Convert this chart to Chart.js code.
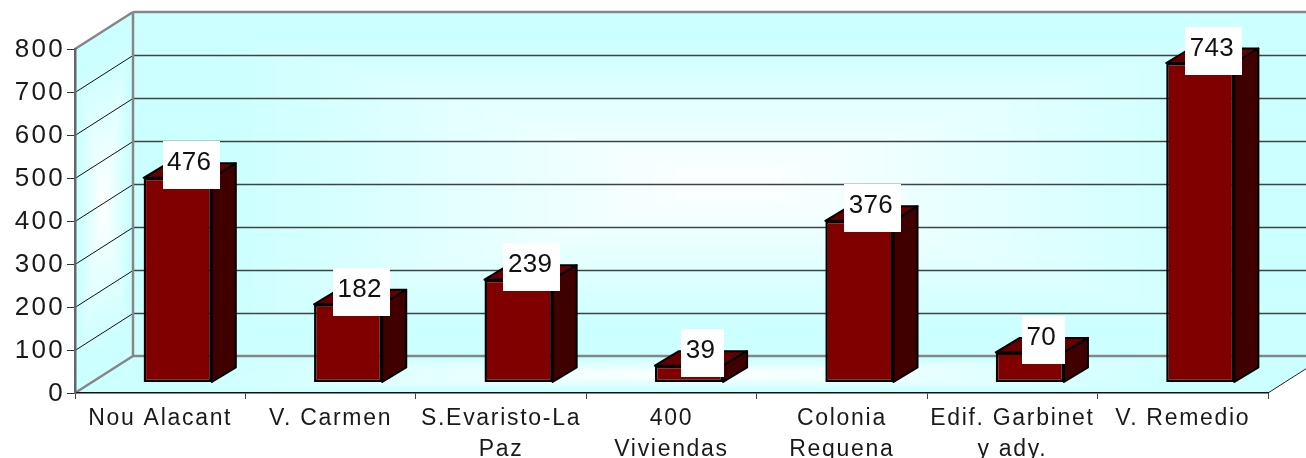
<!DOCTYPE html>
<html>
<head>
<meta charset="utf-8">
<style>
  html, body { margin: 0; padding: 0; background: #fff; overflow: hidden; }
  #grafica { display: block; }
</style>
<script src="https://cdn.jsdelivr.net/npm/chart.js@4"></script>
</head>
<body>
<canvas id="grafica" width="1306" height="458"></canvas>
<script>
const barrios = [
    "Nou Alacant",
    "V. Carmen",
    ["S.Evaristo-La", "Paz"],
    ["400", "Viviendas"],
    ["Colonia", "Requena"],
    ["Edif. Garbinet", "y ady."],
    "V. Remedio"
];
const valores = [476, 182, 239, 39, 376, 70, 743];
const ejeMax = 800;
const ejePaso = 100;

const CIAN = [204, 255, 255];
const FONDO_DX = 58, FONDO_DY = -37;   // profundidad de la caja
const BARRA_DX = 17.5, BARRA_DY = -10.5; // donde empieza la barra
const LADO_DX = 24, LADO_DY = -14.5;     // profundidad de la barra

// degradado "desde el centro": poligonos encajados de cian a blanco
function rellenoCentro(ctx, pts) {
    const cx = pts.reduce((s, p) => s + p[0], 0) / pts.length;
    const cy = pts.reduce((s, p) => s + p[1], 0) / pts.length;
    const pasos = 70;
    for (let i = pasos; i > 0; i--) {
        const t = i / pasos;
        const k = Math.min(1, t / 0.85);
        const c = CIAN.map(v => Math.round(255 + (v - 255) * k));
        ctx.fillStyle = `rgb(${c[0]},${c[1]},${c[2]})`;
        ctx.beginPath();
        pts.forEach(p => ctx.lineTo(cx + (p[0] - cx) * t, cy + (p[1] - cy) * t));
        ctx.closePath();
        ctx.fill();
    }
}

function linea(ctx, x1, y1, x2, y2, color, ancho) {
    ctx.strokeStyle = color;
    ctx.lineWidth = ancho;
    ctx.beginPath();
    ctx.moveTo(x1, y1);
    ctx.lineTo(x2, y2);
    ctx.stroke();
}

const caja3d = {
    id: "caja3d",
    beforeDraw(chart) {
        const { ctx, chartArea: a, scales } = chart;
        const y = scales.y;
        const l = a.left, r = a.right, t = a.top, b = a.bottom;
        const dx = FONDO_DX, dy = FONDO_DY;
        ctx.save();
        rellenoCentro(ctx, [[l + dx, t + dy], [r + dx, t + dy], [r + dx, b + dy], [l + dx, b + dy]]);
        rellenoCentro(ctx, [[l, t], [l + dx, t + dy], [l + dx, b + dy], [l, b]]);
        rellenoCentro(ctx, [[l, b], [l + dx, b + dy], [r + dx, b + dy], [r, b]]);

        // rejilla en el fondo y en la pared
        for (let v = ejePaso; v < ejeMax; v += ejePaso) {
            const py = Math.round(y.getPixelForValue(v)) + 0.5;
            linea(ctx, l + dx, py + dy, r + dx, py + dy, "#3c4444", 1.5);
            linea(ctx, l, py, l + dx, py + dy, "#111", 1);
        }
        linea(ctx, l, t, l + dx, t + dy, "#868686", 2.5);
        linea(ctx, l + dx, t + dy, r + dx, t + dy, "#868686", 2.5);
        linea(ctx, l + dx, t + dy, l + dx, b + dy, "#868686", 2.5);
        linea(ctx, l + dx, b + dy, r + dx, b + dy, "#868686", 2.5);
        linea(ctx, l, b, l + dx, b + dy, "#868686", 2.5);
        linea(ctx, r, b, r + dx, b + dy, "#222", 1);
        ctx.restore();
        ctx.letterSpacing = "2.3px"; // numeros del eje y
    },
    beforeDatasetDraw(chart) {
        const ctx = chart.ctx;
        ctx.save();
        ctx.translate(BARRA_DX, BARRA_DY);
        chart.getDatasetMeta(0).data.forEach(bar => {
            const p = bar.getProps(["x", "y", "base", "width"], true);
            const izq = p.x - p.width / 2, der = p.x + p.width / 2;
            ctx.strokeStyle = "#000";
            ctx.lineWidth = 2;
            ctx.lineJoin = "round";
            // cara superior
            ctx.fillStyle = "#660000";
            ctx.beginPath();
            ctx.moveTo(izq, p.y);
            ctx.lineTo(izq + LADO_DX, p.y + LADO_DY);
            ctx.lineTo(der + LADO_DX, p.y + LADO_DY);
            ctx.lineTo(der, p.y);
            ctx.closePath();
            ctx.fill();
            ctx.stroke();
            // cara lateral
            ctx.fillStyle = "#400000";
            ctx.beginPath();
            ctx.moveTo(der, p.y);
            ctx.lineTo(der + LADO_DX, p.y + LADO_DY);
            ctx.lineTo(der + LADO_DX, p.base + LADO_DY);
            ctx.lineTo(der, p.base);
            ctx.closePath();
            ctx.fill();
            ctx.stroke();
        });
    },
    afterDatasetDraw(chart) {
        chart.ctx.restore();
    },
    afterDatasetsDraw(chart) {
        const ctx = chart.ctx;
        ctx.save();
        ctx.letterSpacing = "0.3px";
        ctx.font = "26px 'Liberation Sans'";
        ctx.textAlign = "center";
        ctx.textBaseline = "alphabetic";
        chart.getDatasetMeta(0).data.forEach((bar, i) => {
            const p = bar.getProps(["x", "y"], true);
            const txt = String(valores[i]);
            const w = ctx.measureText(txt).width + 13;
            const cx = p.x + BARRA_DX + 13.5;
            const top = p.y + BARRA_DY - 36.5;
            ctx.fillStyle = "#fff";
            ctx.fillRect(Math.round(cx - w / 2), Math.round(top), Math.round(w), 48);
            ctx.fillStyle = "#111";
            ctx.fillText(txt, cx - 2, top + 29);
        });
        ctx.restore();
        ctx.letterSpacing = "1.7px"; // nombres del eje x
    },
    afterDraw(chart) {
        chart.ctx.letterSpacing = "0px";
    }
};

new Chart(document.getElementById("grafica").getContext("2d"), {
    type: "bar",
    data: {
        labels: barrios,
        datasets: [{
            data: valores,
            backgroundColor: "#800000",
            borderColor: "#000",
            borderWidth: 2.5,
            borderSkipped: false,
            categoryPercentage: 1,
            barPercentage: 0.4,
            clip: false
        }]
    },
    options: {
        responsive: false,
        animation: false,
        layout: { padding: { top: 49, right: 38, left: 0, bottom: 0 } },
        plugins: { legend: { display: false }, tooltip: { enabled: false } },
        scales: {
            x: {
                afterFit(s) { s.height = 65; },
                grid: { drawOnChartArea: false, drawTicks: true, tickLength: 6, color: "#444" },
                border: { color: "#111", width: 1.5 },
                ticks: {
                    z: 1,
                    color: "#1a1a1a",
                    padding: 4,
                    autoSkip: false,
                    maxRotation: 0,
                    minRotation: 0,
                    font: { family: "'Liberation Sans'", size: 23, lineHeight: 1.36 }
                }
            },
            y: {
                min: 0,
                max: ejeMax,
                afterFit(s) { s.width = 75; },
                grid: { drawOnChartArea: false, drawTicks: true, tickLength: 8, color: "#333" },
                border: { color: "#666", width: 2.5 },
                ticks: {
                    z: -1,
                    stepSize: ejePaso,
                    color: "#1a1a1a",
                    padding: 2,
                    labelOffset: 1,
                    font: { family: "'Liberation Sans'", size: 26 }
                }
            }
        }
    },
    plugins: [caja3d]
});
</script>
</body>
</html>
